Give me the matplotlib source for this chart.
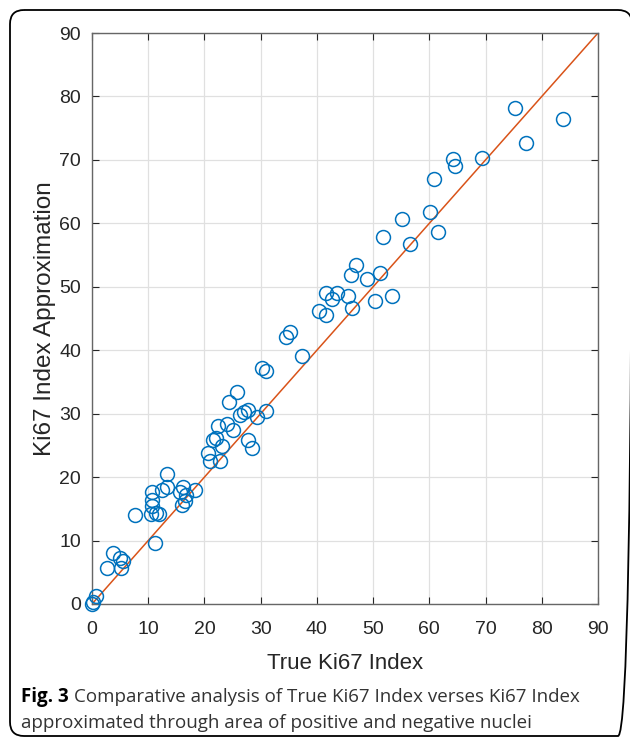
import matplotlib.pyplot as plt
from matplotlib.patches import FancyBboxPatch

plt.rcParams['font.family'] = ['Liberation Sans', 'DejaVu Sans']

# valores
true_ki67 = [0.0, 0.2, 0.65, 2.7, 3.8, 4.9, 5.5, 5.1, 7.65, 11.2,
             10.7, 10.7, 10.6, 10.5, 11.4, 12.0, 12.4, 13.3, 13.3,
             15.65, 16.2, 15.95, 16.5, 16.8, 18.3,
             20.7, 21.0, 22.8, 23.1, 21.6, 22.05, 22.35, 23.95, 25.1,
             27.8, 28.5, 24.4, 25.85, 26.3, 27.0, 27.8, 29.3, 30.95,
             30.2, 30.9, 34.5, 35.3, 37.3,
             40.4, 41.6, 41.7, 42.6, 43.6, 45.6, 46.3, 46.0, 46.9, 49.0, 51.2, 50.4, 53.4,
             51.8, 56.6, 55.1, 61.6, 60.1, 60.8,
             64.2, 64.6, 69.4, 77.2, 75.2, 83.7]
approx_ki67 = [0.0, 0.3, 1.3, 5.6, 8.1, 7.2, 6.8, 5.7, 14.05, 9.6,
               17.7, 16.4, 15.4, 14.2, 14.4, 14.2, 18.0, 18.5, 20.5,
               17.7, 18.5, 15.6, 16.2, 17.2, 18.0,
               23.8, 22.5, 22.5, 24.9, 25.9, 26.2, 28.1, 28.3, 27.4,
               25.9, 24.6, 31.8, 33.4, 29.8, 30.2, 30.6, 29.5, 30.4,
               37.2, 36.7, 42.1, 42.9, 39.05,
               46.2, 45.5, 49.05, 48.0, 48.95, 48.5, 46.7, 51.8, 53.5, 51.2, 52.1, 47.7, 48.5,
               57.9, 56.8, 60.75, 58.6, 61.8, 66.95,
               70.1, 69.0, 70.3, 72.6, 78.2, 76.4]
ticks = list(range(0, 91, 10))

azul = (0, 0.447, 0.741)
laranja = (0.85, 0.325, 0.098)
cinza = (0.15, 0.15, 0.15)

fig = plt.figure(figsize=(6.3, 7.42), dpi=100)

# moldura arredondada em coordenadas de pixel
fundo = fig.add_axes([0, 0, 1, 1], zorder=-1)
fundo.set_xlim(0, 630)
fundo.set_ylim(742, 0)
fundo.axis('off')
fundo.add_patch(FancyBboxPatch((10, 10), 622, 726, boxstyle="round,pad=0,rounding_size=14",
                               fill=False, edgecolor='black', linewidth=1.3))

ax = fig.add_axes([92 / 630, 1 - 604 / 742, 506 / 630, 571 / 742])
ax.plot([0, 90], [0, 90], color=laranja, linewidth=1.1, zorder=2)
ax.plot(true_ki67, approx_ki67, 'o', markersize=10, markerfacecolor='none',
        markeredgecolor=azul, markeredgewidth=1.1, zorder=3, clip_on=False)

ax.set_xlim(0, 90)
ax.set_ylim(0, 90)
ax.set_xticks(ticks)
ax.set_yticks(ticks)
ax.grid(True, color=(0.88, 0.88, 0.88), linewidth=0.9)
ax.set_axisbelow(True)
ax.tick_params(direction='in', length=5, top=True, right=True, colors=cinza, labelsize=14)
ax.tick_params(axis='x', pad=12)
ax.tick_params(axis='y', pad=8)
for s in ax.spines.values():
    s.set_color((0.4, 0.4, 0.4))
    s.set_linewidth(1.0)

ax.set_xlabel('True Ki67 Index', fontsize=16, color=cinza, labelpad=11)
ax.set_ylabel('Ki67 Index Approximation', fontsize=17.5, color=cinza, labelpad=2)

# legenda da figura
renderer = fig.canvas.get_renderer()
t1 = fig.text(21 / 630, 1 - 697 / 742, 'Fig. 3', fontsize=13.5, weight='bold', family='Open Sans',
              va='center')
bb = t1.get_window_extent(renderer)
fig.text((bb.x1 + 5) / 630, 1 - 697 / 742,
         'Comparative analysis of True Ki67 Index verses Ki67 Index',
         fontsize=13.5, family='Open Sans', va='center', color=(0.2, 0.2, 0.2))
fig.text(21 / 630, 1 - 723 / 742, 'approximated through area of positive and negative nuclei',
         fontsize=13.5, family='Open Sans', va='center', color=(0.2, 0.2, 0.2))

fig.savefig('out.png', dpi=100)
